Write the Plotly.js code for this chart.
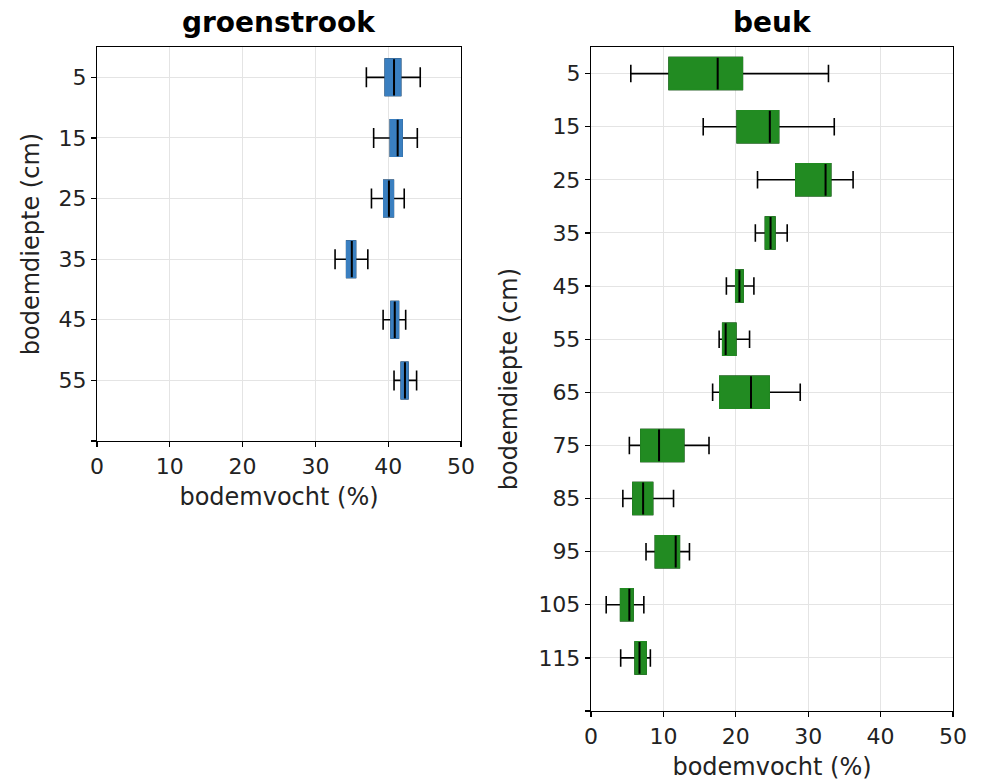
<!DOCTYPE html>
<html>
<head>
<meta charset="utf-8">
<script src="https://cdn.plot.ly/plotly-3.0.1.min.js"></script>
<style>html,body{margin:0;padding:0;background:#fff;}#chart{width:984px;height:781px;}</style>
</head>
<body>
<div id="chart"></div>
<script>
// groenstrook (left panel)
const gDepth = [5, 15, 25, 35, 45, 55];
const gLow   = [37.0, 38.0, 37.7, 32.7, 39.3, 40.8];
const gQ1    = [39.6, 40.3, 39.4, 34.3, 40.4, 41.8];
const gMed   = [40.8, 41.3, 40.1, 35.0, 40.9, 42.3];
const gQ3    = [41.7, 41.9, 40.7, 35.5, 41.4, 42.7];
const gHigh  = [44.4, 44.0, 42.2, 37.2, 42.4, 43.9];

// beuk (right panel)
const bDepth = [5, 15, 25, 35, 45, 55, 65, 75, 85, 95, 105, 115];
const bLow   = [5.5, 15.5, 23.0, 22.7, 18.7, 17.7, 16.8, 5.3, 4.4, 7.6, 2.1, 4.1];
const bQ1    = [10.8, 20.2, 28.3, 24.1, 20.0, 18.2, 17.8, 6.9, 5.8, 8.9, 4.1, 6.1];
const bMed   = [17.5, 24.7, 32.4, 24.8, 20.5, 18.6, 22.1, 9.4, 7.2, 11.7, 5.3, 6.7];
const bQ3    = [20.9, 25.9, 33.1, 25.4, 21.0, 20.0, 24.6, 12.8, 8.5, 12.2, 5.8, 7.6];
const bHigh  = [32.8, 33.6, 36.2, 27.1, 22.5, 21.9, 28.9, 16.3, 11.4, 13.6, 7.3, 8.2];

const gTickVals = [5, 15, 25, 35, 45, 55, 65];
const gTickText = ['5', '15', '25', '35', '45', '55', ''];
const bTickVals = [5, 15, 25, 35, 45, 55, 65, 75, 85, 95, 105, 115, 125];
const bTickText = ['5', '15', '25', '35', '45', '55', '65', '75', '85', '95', '105', '115', ''];

const titles = ['groenstrook', 'beuk'];
const xTitle = 'bodemvocht (%)';
const yTitle = 'bodemdiepte (cm)';

const BLUE = '#3a7fc0';
const GREEN = '#228b22';
const BOXW = 6;

function boxTraces(pos, lo, q1, med, q3, hi, color, xa, ya) {
  const base = {type: 'box', orientation: 'h', y: pos, width: BOXW,
    xaxis: xa, yaxis: ya, hoverinfo: 'skip', showlegend: false};
  return [
    Object.assign({}, base, {lowerfence: lo, q1: q1, median: med, q3: q3, upperfence: hi,
      whiskerwidth: 0.55, line: {color: 'black', width: 1.6}, fillcolor: color}),
    Object.assign({}, base, {lowerfence: q1, q1: q1, median: med, q3: q3, upperfence: q3,
      whiskerwidth: 0, line: {color: color, width: 1.7}, fillcolor: color}),
    Object.assign({}, base, {lowerfence: med, q1: med, median: med, q3: med, upperfence: med,
      whiskerwidth: 0, line: {color: 'black', width: 2}, fillcolor: 'rgba(0,0,0,0)'})
  ];
}

const data = [].concat(
  boxTraces(gDepth, gLow, gQ1, gMed, gQ3, gHigh, BLUE, 'x', 'y'),
  boxTraces(bDepth, bLow, bQ1, bMed, bQ3, bHigh, GREEN, 'x2', 'y2')
);

const FONT = 'DejaVu Sans, sans-serif';
const axCommon = {
  showline: true, linecolor: 'black', linewidth: 1.2, mirror: true,
  ticks: 'outside', ticklen: 5, tickwidth: 1.2, tickcolor: 'black',
  showgrid: true, gridcolor: '#e4e4e4', gridwidth: 1, zeroline: false,
  tickfont: {family: FONT, size: 22, color: '#222'}
};
function xAxis(domain, anchor) {
  return Object.assign({}, axCommon, {domain: domain, anchor: anchor, range: [0, 50],
    tickvals: [0, 10, 20, 30, 40, 50], fixedrange: true,
    title: {text: xTitle, font: {family: FONT, size: 24, color: '#222'}, standoff: 10}});
}
function yAxis(domain, anchor, range, tv, tt, standoff) {
  return Object.assign({}, axCommon, {domain: domain, anchor: anchor, range: range,
    tickvals: tv, ticktext: tt, fixedrange: true,
    title: {text: yTitle, font: {family: FONT, size: 24, color: '#222'}, standoff: standoff}});
}

const layout = {
  width: 984, height: 781,
  margin: {l: 0, r: 0, t: 0, b: 0},
  paper_bgcolor: 'white', plot_bgcolor: 'white',
  showlegend: false, boxmode: 'overlay',
  xaxis: xAxis([0.0986, 0.4685], 'y'),
  yaxis: yAxis([0.4353, 0.9398], 'x', [65, 0], gTickVals, gTickText, 12),
  xaxis2: xAxis([0.6006, 0.9685], 'y2'),
  yaxis2: yAxis([0.0896, 0.9398], 'x2', [125, 0], bTickVals, bTickText, 14),
  annotations: [
    {text: '<b>' + titles[0] + '</b>', xref: 'paper', yref: 'paper', x: 0.2836, y: 1 - 23 / 781,
      xanchor: 'center', yanchor: 'middle', showarrow: false, font: {family: FONT, size: 28, color: 'black'}},
    {text: '<b>' + titles[1] + '</b>', xref: 'paper', yref: 'paper', x: 0.7846, y: 1 - 23 / 781,
      xanchor: 'center', yanchor: 'middle', showarrow: false, font: {family: FONT, size: 28, color: 'black'}}
  ]
};

Plotly.newPlot('chart', data, layout, {displayModeBar: false, staticPlot: true});
</script>
</body>
</html>
